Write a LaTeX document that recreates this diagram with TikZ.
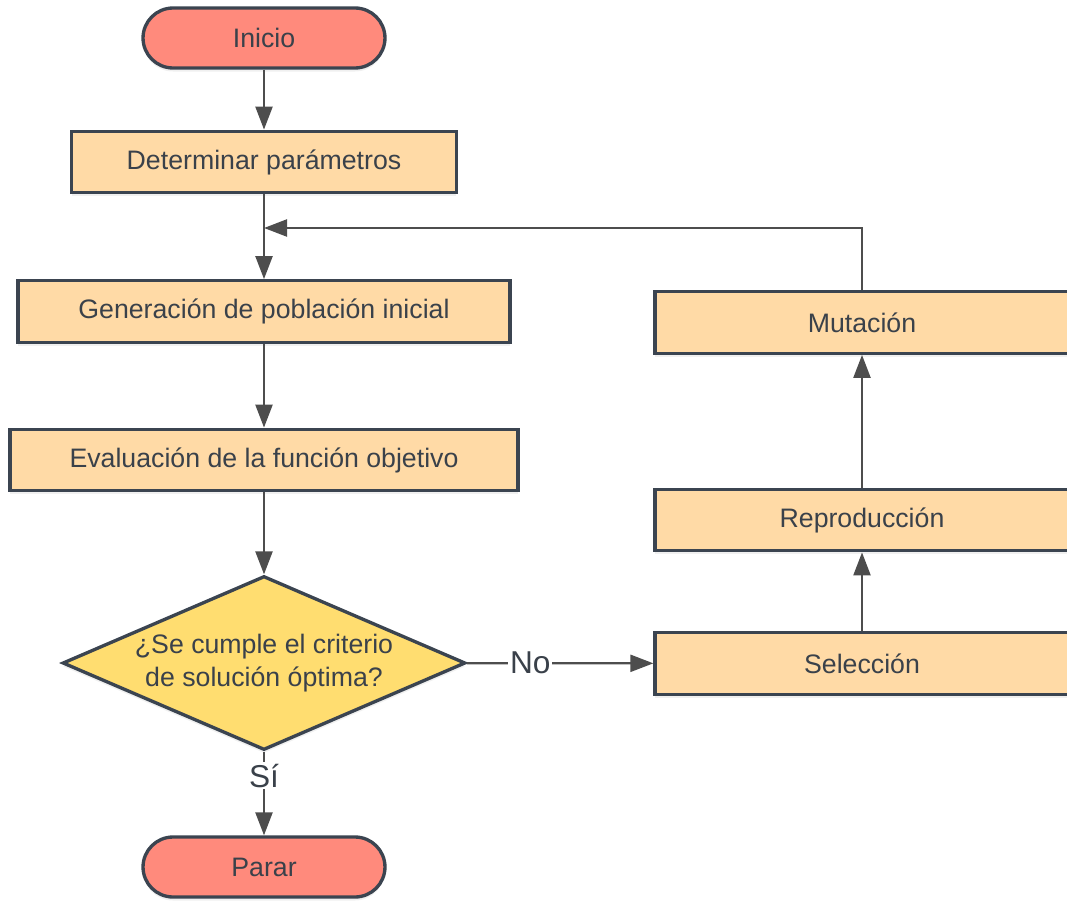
\documentclass[tikz,border=0pt]{standalone}
\usepackage{fontspec}
\setmainfont{Liberation Sans}
\usetikzlibrary{positioning, shapes.geometric, arrows.meta, shadows}

\definecolor{salmon}{HTML}{FF8A7C}
\definecolor{peach}{HTML}{FFDAA6}
\definecolor{gold}{HTML}{FFDD70}
\definecolor{edgegray}{HTML}{3B4450}
\definecolor{linegray}{HTML}{4D4D4D}
\definecolor{txtgray}{HTML}{3A414A}

\begin{document}
\begin{tikzpicture}[x=0.02cm, y=-0.02cm,
    font=\fontsize{15.2}{19}\selectfont, text=txtgray,
    shade/.style={drop shadow={opacity=0.12, shadow xshift=0pt, shadow yshift=-2pt}},
    terminal/.style={draw=edgegray, line width=1.9pt, fill=salmon, shade,
        rounded corners=0.6cm, minimum width=4.84cm, minimum height=1.2cm, inner sep=0pt},
    process/.style={draw=edgegray, line width=1.9pt, fill=peach, shade,
        minimum height=1.23cm, inner sep=0pt},
    decision/.style={diamond, aspect=2.32, draw=edgegray, line width=1.9pt, fill=gold, shade,
        minimum width=8.06cm, minimum height=3.48cm, inner sep=0pt, align=center},
    flow/.style={draw=linegray, line width=1.3pt,
        -{Triangle[length=0.46cm, width=0.34cm]}},
    answer/.style={fill=white, inner sep=1pt, font=\fontsize{18}{20}\selectfont}]
\useasboundingbox (0,0) rectangle (1067,902);

% left column
\node[terminal] (inicio) at (264,38) {Inicio};
\node[process, minimum width=7.7cm] (param) at (264,162) {Determinar parámetros};
\node[process, minimum width=9.84cm] (gen) at (264,311.5) {Generación de población inicial};
\node[process, minimum width=10.16cm] (eval) at (264,460) {Evaluación de la función objetivo};
\node[decision] (crit) at (264,663) {¿Se cumple el criterio\\de solución óptima?};
\node[terminal] (parar) at (264,867) {Parar};

% right column
\node[process, minimum width=8.28cm] (sel) at (862,663.5) {Selección};
\node[process, minimum width=8.28cm] (repro) at (862,520) {Reproducción};
\node[process, minimum width=8.28cm] (mut) at (862,322.5) {Mutación};
\coordinate (join) at (264,228);

% connectors
\draw[flow] (inicio) -- (param);
\draw[flow] (param) -- (gen);
\draw[flow] (gen) -- (eval);
\draw[flow] (eval) -- (crit);
\draw[flow] (crit) -- node[answer, pos=0.29] {Sí} (parar);
\draw[flow] (crit) -- node[answer, pos=0.34] {No} (sel);
\draw[flow] (sel) -- (repro);
\draw[flow] (repro) -- (mut);
\draw[flow] (mut.north) |- (join);
\end{tikzpicture}
\end{document}
